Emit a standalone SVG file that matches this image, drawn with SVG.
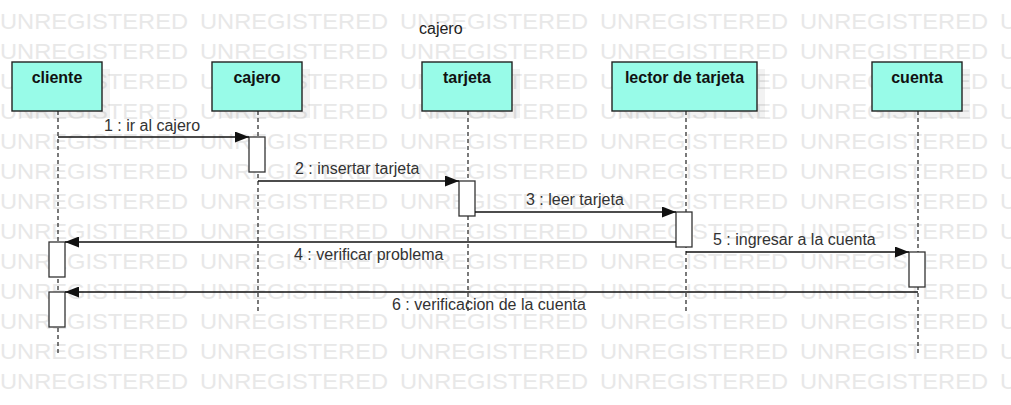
<svg xmlns="http://www.w3.org/2000/svg" xmlns:xlink="http://www.w3.org/1999/xlink" width="1011" height="405" viewBox="0 0 1011 405">
<style>
.wm{font-family:"Liberation Sans",Arial,sans-serif;font-size:22px;fill:#e8e8e8}
.box{fill:#98fbe8;stroke:#222;stroke-width:1.4}
.shadow{fill:#000;opacity:0.05}
.name{font-family:"Liberation Sans",Arial,sans-serif;font-size:16px;font-weight:bold;fill:#111;text-anchor:middle}
.life{stroke:#333;stroke-width:1.3;stroke-dasharray:4 3;fill:none}
.act{fill:#fff;stroke:#333;stroke-width:1.3}
.msg{stroke:#111;stroke-width:1.3;fill:none;marker-end:url(#arr)}
.lbl{font-family:"Liberation Sans",Arial,sans-serif;font-size:16px;fill:#333}
.title{font-family:"Liberation Sans",Arial,sans-serif;font-size:16px;fill:#222}
</style>
<defs>
<marker id="arr" viewBox="0 0 14 11" refX="14" refY="5.5" markerWidth="14" markerHeight="11" markerUnits="userSpaceOnUse" orient="auto">
<path d="M0,0 L14,5.5 L0,11 Z" fill="#111"/>
</marker>
<g id="wmrow">
<text class="wm" x="0" y="28.5" textLength="188" lengthAdjust="spacingAndGlyphs">UNREGISTERED</text>
<text class="wm" x="200" y="28.5" textLength="188" lengthAdjust="spacingAndGlyphs">UNREGISTERED</text>
<text class="wm" x="400" y="28.5" textLength="188" lengthAdjust="spacingAndGlyphs">UNREGISTERED</text>
<text class="wm" x="600" y="28.5" textLength="188" lengthAdjust="spacingAndGlyphs">UNREGISTERED</text>
<text class="wm" x="800" y="28.5" textLength="188" lengthAdjust="spacingAndGlyphs">UNREGISTERED</text>
<text class="wm" x="1000" y="28.5" textLength="17" lengthAdjust="spacingAndGlyphs">U</text>
</g>
</defs>
<rect width="1011" height="405" fill="#fff"/>
<g id="watermark">
<use xlink:href="#wmrow" y="0"/>
<use xlink:href="#wmrow" y="30"/>
<use xlink:href="#wmrow" y="60"/>
<use xlink:href="#wmrow" y="90"/>
<use xlink:href="#wmrow" y="120"/>
<use xlink:href="#wmrow" y="150"/>
<use xlink:href="#wmrow" y="180"/>
<use xlink:href="#wmrow" y="210"/>
<use xlink:href="#wmrow" y="240"/>
<use xlink:href="#wmrow" y="270"/>
<use xlink:href="#wmrow" y="300"/>
<use xlink:href="#wmrow" y="330"/>
<use xlink:href="#wmrow" y="360"/>
</g>
<text class="title" x="419" y="34">cajero</text>
<g id="lifelines">
<line class="life" x1="58" y1="111" x2="58" y2="355"/>
<line class="life" x1="258" y1="111" x2="258" y2="311"/>
<line class="life" x1="468" y1="111" x2="468" y2="311"/>
<line class="life" x1="686" y1="111" x2="686" y2="311"/>
<line class="life" x1="918" y1="111" x2="918" y2="355"/>
</g>
<g id="cliente">
<rect class="shadow" x="20" y="69" width="90" height="49"/>
<rect class="box" x="12" y="62" width="90" height="49"/>
<text class="name" x="57" y="83">cliente</text>
</g>
<g id="cajero">
<rect class="shadow" x="220" y="69" width="90" height="49"/>
<rect class="box" x="212" y="62" width="90" height="49"/>
<text class="name" x="257" y="83">cajero</text>
</g>
<g id="tarjeta">
<rect class="shadow" x="430" y="69" width="90" height="49"/>
<rect class="box" x="422" y="62" width="90" height="49"/>
<text class="name" x="467" y="83">tarjeta</text>
</g>
<g id="lector">
<rect class="shadow" x="620" y="69" width="145" height="49"/>
<rect class="box" x="612" y="62" width="145" height="49"/>
<text class="name" x="684.5" y="83">lector de tarjeta</text>
</g>
<g id="cuenta">
<rect class="shadow" x="880" y="69" width="90" height="49"/>
<rect class="box" x="872" y="62" width="90" height="49"/>
<text class="name" x="917" y="83">cuenta</text>
</g>
<g id="activations">
<rect class="act" x="249" y="137" width="16" height="35"/>
<rect class="act" x="459" y="181" width="16" height="35"/>
<rect class="act" x="676" y="212" width="16" height="35"/>
<rect class="act" x="49" y="242" width="16" height="35"/>
<rect class="act" x="909" y="252" width="16" height="35"/>
<rect class="act" x="49" y="292" width="16" height="35"/>
</g>
<g id="connectors">
<line class="msg" x1="58" y1="137" x2="249" y2="137"/>
<line class="msg" x1="258" y1="181" x2="459" y2="181"/>
<line class="msg" x1="475" y1="212" x2="676" y2="212"/>
<line class="msg" x1="676" y1="242" x2="65" y2="242"/>
<line class="msg" x1="686" y1="252" x2="909" y2="252"/>
<line class="msg" x1="918" y1="292" x2="65" y2="292"/>
</g>
<g id="labels">
<text class="lbl" x="104" y="131">1 : ir al cajero</text>
<text class="lbl" x="295" y="174">2 : insertar tarjeta</text>
<text class="lbl" x="526" y="205">3 : leer tarjeta</text>
<text class="lbl" x="294" y="260">4 : verificar problema</text>
<text class="lbl" x="713" y="245">5 : ingresar a la cuenta</text>
<text class="lbl" x="392" y="310">6 : verificacion de la cuenta</text>
</g>
</svg>
